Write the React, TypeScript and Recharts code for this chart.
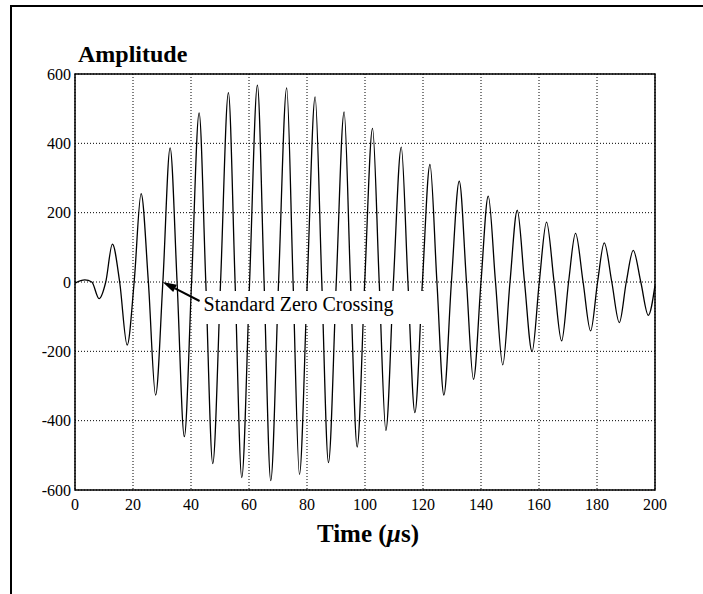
import { LineChart, Line, XAxis, YAxis, CartesianGrid, ReferenceArea, ReferenceDot } from "recharts"

// peaks, troughs and zero crossings (time in µs)
const times = [
    0, 3.4, 5.8, 8.3, 10.6, 12.9, 15.4, 18.0, 20.4, 22.8, 25.3, 27.8, 30.3, 32.8, 35.2, 37.7, 40.2,
    42.8, 45.1, 47.5, 50.2, 52.9, 55.2, 57.5, 60.2, 62.9, 65.2, 67.5, 70.2, 73.0, 75.2, 77.4, 80.1,
    82.8, 85.1, 87.4, 90.1, 92.8, 95.0, 97.3, 99.9, 102.6, 104.9, 107.2, 109.8, 112.5, 114.8, 117.2,
    119.8, 122.4, 124.8, 127.2, 129.8, 132.5, 135.0, 137.4, 140.0, 142.5, 145.0, 147.5, 150.0, 152.5,
    155.0, 157.6, 160.1, 162.6, 165.2, 167.8, 170.2, 172.6, 175.2, 177.8, 180.2, 182.5, 185.1, 187.7,
    190.1, 192.5, 195.1, 197.7, 200,
]

const amplitudes = [
    -3, 6, 0, -48, 0, 109, 0, -182, 0, 255, 0, -326, 0, 387, 0, -446, 0,
    488, 0, -524, 0, 546, 0, -564, 0, 568, 0, -573, 0, 560, 0, -555, 0,
    534, 0, -521, 0, 491, 0, -476, 0, 443, 0, -428, 0, 389, 0, -377,
    0, 339, 0, -326, 0, 291, 0, -281, 0, 248, 0, -239, 0, 207,
    0, -201, 0, 173, 0, -170, 0, 140, 0, -141, 0, 113, 0, -117,
    0, 91, 0, -96, -10,
]

const xTicks = [0, 20, 40, 60, 80, 100, 120, 140, 160, 180, 200]
const yTicks = [-600, -400, -200, 0, 200, 400, 600]

const zeroCrossingTime = 30.2

const data = times.map((t, i) => ({ t, amp: amplitudes[i] }))

const serif = "'Liberation Serif', 'Times New Roman', serif"

const ArrowNote = (props: any) => {
    const { cx, cy } = props
    // arrow pointing up-left to the crossing
    const tx = cx + 37
    const ty = cy + 19
    const len = Math.hypot(tx - cx, ty - cy)
    const ux = (tx - cx) / len
    const uy = (ty - cy) / len
    const bx = cx + ux * 14
    const by = cy + uy * 14
    const px = -uy * 4
    const py = ux * 4
    return (
        <g>
            <rect x={cx + 30} y={cy + 9} width={236} height={33} fill="#fff" />
            <line x1={bx} y1={by} x2={tx} y2={ty} stroke="#000" strokeWidth={2} />
            <polygon points={`${cx},${cy} ${bx + px},${by + py} ${bx - px},${by - py}`} fill="#000" />
            <text x={cx + 41} y={cy + 28.5} style={{ fontFamily: serif, fontSize: 20 }} fill="#000">
                Standard Zero Crossing
            </text>
        </g>
    )
}

export default function App() {
    return (
        <div
            style={{
                position: 'absolute',
                left: 0,
                top: 0,
                width: 703,
                height: 594,
                background: '#fff',
                fontFamily: serif,
            }}
        >
            <div
                style={{
                    position: 'absolute',
                    left: 10,
                    top: 5,
                    width: 693,
                    height: 589,
                    borderTop: '2px solid #000',
                    borderLeft: '2px solid #000',
                    boxSizing: 'border-box',
                }}
            />
            <div style={{ position: 'absolute', left: 0, top: 0 }}>
                <LineChart
                    width={703}
                    height={594}
                    data={data}
                    margin={{ top: 74, right: 48, bottom: 74, left: 15 }}
                    style={{ fontFamily: serif }}
                >
                    <CartesianGrid stroke="#000" strokeDasharray="1 2" strokeWidth={1} />
                    <XAxis
                        dataKey="t"
                        type="number"
                        domain={[0, 200]}
                        ticks={xTicks}
                        interval={0}
                        height={30}
                        tickLine={false}
                        axisLine={false}
                        tickSize={4}
                        tickMargin={5}
                        tick={{ fill: '#000', fontSize: 16, style: { fontFamily: serif } }}
                    />
                    <YAxis
                        type="number"
                        domain={[-600, 600]}
                        ticks={yTicks}
                        interval={0}
                        width={60}
                        tickLine={false}
                        axisLine={false}
                        tickSize={2}
                        tickMargin={2}
                        tick={{ fill: '#000', fontSize: 16, style: { fontFamily: serif } }}
                    />
                    <ReferenceArea x1={0} x2={200} y1={-600} y2={600} fill="none" stroke="#000" strokeWidth={1.5} />
                    <Line
                        type="monotone"
                        dataKey="amp"
                        stroke="#000"
                        strokeWidth={1.3}
                        dot={false}
                        isAnimationActive={false}
                    />
                    <ReferenceDot x={zeroCrossingTime} y={0} shape={ArrowNote} />
                </LineChart>
            </div>
            <svg width={703} height={594} style={{ position: 'absolute', left: 0, top: 0, pointerEvents: 'none' }}>
                <text x={78} y={62} style={{ fontFamily: serif, fontSize: 24, fontWeight: 'bold' }} fill="#000">
                    Amplitude
                </text>
                <text
                    x={368}
                    y={542}
                    style={{ fontFamily: serif, fontSize: 25, fontWeight: 'bold' }}
                    fill="#000"
                    textAnchor="middle"
                >
                    Time (<tspan fontStyle="italic">µ</tspan>s)
                </text>
            </svg>
        </div>
    )
}
